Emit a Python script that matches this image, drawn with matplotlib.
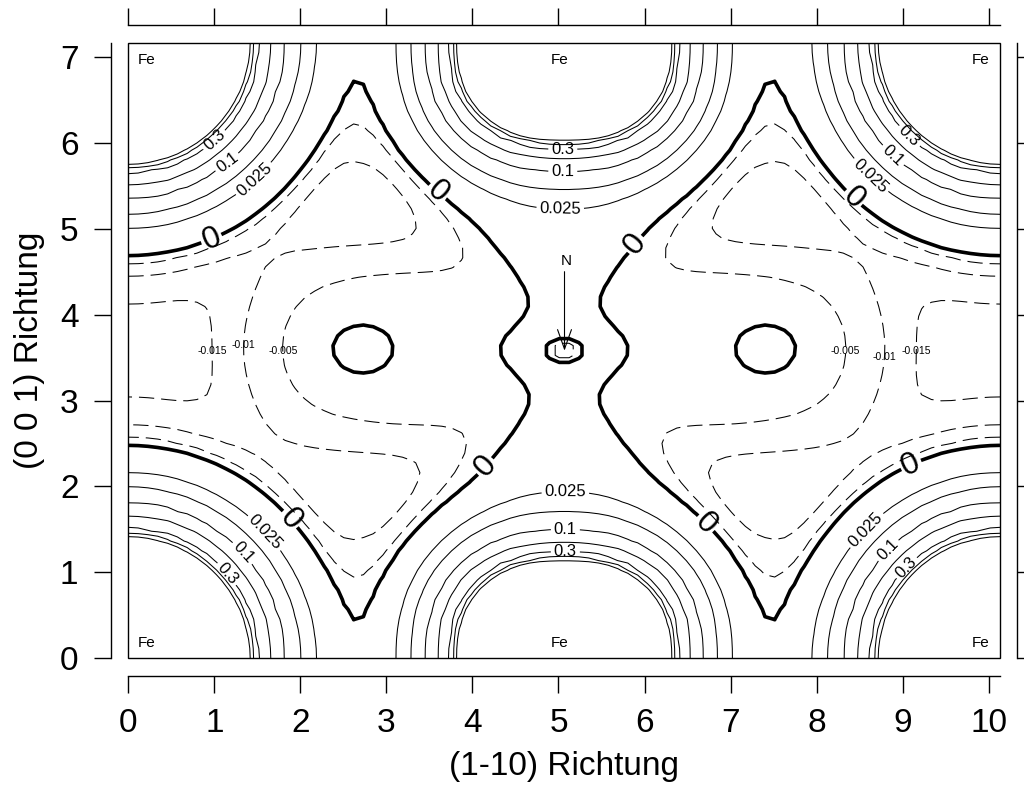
import numpy as np
import matplotlib.pyplot as plt

plt.rcParams['font.family'] = ['Liberation Sans', 'DejaVu Sans']
plt.rcParams['lines.scale_dashes'] = False

# Ebene (1-10) x (001), Laengen in Bohr
GITTER_A = 7.165
BREITE = GITTER_A * np.sqrt(2)

# Atompositionen in der Ebene
FE_ECKE_X = [0.0, BREITE, 0.0, BREITE]
FE_ECKE_Y = [0.0, 0.0, GITTER_A, GITTER_A]
FE_MITTE_X = [BREITE / 2, BREITE / 2]
FE_MITTE_Y = [0.0, GITTER_A]
N_X, N_Y = BREITE / 2, GITTER_A / 2
INSEL_X = [2.70, BREITE - 2.70]
INSEL_Y = [3.60, 3.60]

# radiales Profil der Fe-Dichte (Abstand, Dichte)
FE_RADIUS = [1.30, 1.41, 1.45, 1.50, 1.67, 1.80, 1.99, 2.16, 2.48, 2.58, 2.76, 3.06, 3.60, 4.50, 6.00]
FE_DICHTE = [0.90, 0.52, 0.42, 0.32, 0.22, 0.12, 0.07, 0.045, 0.020, 0.014, 0.0088, 0.0045, 0.001, 0.0001, 0.00001]

# Untergrund, Bruecke Fe-N-Fe, Stickstoff, Inseln
UNTERGRUND = 0.020
BRUECKE = [0.022, 0.90, 0.25, 0.45]      # Hoehe, Breite, Einbruch, Einbruchbreite
N_BEITRAG = [0.008, 0.55, 0.30]          # Hoehe, sx, sy
N_LOCH = [0.013, 0.20, 0.14]             # Tiefe, rx, ry
INSEL_SOCKEL = [0.016, 1.55, 1.30]       # Hoehe, wx, wy
INSEL_KERN = [0.010, 0.22, 0.18]         # Hoehe, sx, sy
FE_MITTE_FORM = [0.88, 0.80, 2.4]        # ax, ay, Exponent

STUFEN_POS = [0.025, 0.05, 0.1, 0.2, 0.3, 0.4, 0.5]
STUFEN_NEG = [-0.015, -0.01, -0.005]

# Positionen der Beschriftungen
LABEL_POS = {0.3: [(0.95, 6.09), (5.05, 5.99), (9.14, 6.14), (1.09, 0.93), (5.08, 1.12), (9.10, 1.00)],
             0.1: [(1.15, 5.77), (5.05, 5.62), (8.92, 5.89), (1.30, 1.20), (5.08, 1.49), (8.87, 1.22)],
             0.025: [(1.44, 5.60), (5.02, 5.12), (8.66, 5.65), (1.55, 1.43), (5.08, 2.00), (8.61, 1.46)]}
LABEL_NULL = [(0.97, 4.87), (3.53, 5.36), (5.90, 4.81), (8.46, 5.39),
              (4.13, 2.25), (1.87, 1.61), (6.77, 1.63), (9.10, 2.25)]
LABEL_NEG = {-0.015: [(0.88, 3.58), (9.25, 3.58)],
             -0.01: [(1.42, 3.64), (8.71, 3.52)],
             -0.005: [(1.87, 3.58), (8.27, 3.58)]}


def profil(r):
    return np.exp(np.interp(r, FE_RADIUS, np.log(FE_DICHTE)))


def dichte(X, Y):
    rho = -UNTERGRUND * np.ones_like(X)
    for fx, fy in zip(FE_ECKE_X, FE_ECKE_Y):
        rho += profil(np.hypot(X - fx, Y - fy))
    ax_, ay_, q = FE_MITTE_FORM
    for fx, fy in zip(FE_MITTE_X, FE_MITTE_Y):
        r = ((np.abs(X - fx) / ax_) ** q + (np.abs(Y - fy) / ay_) ** q) ** (1 / q)
        rho += profil(r)
    dx = X - N_X
    dy = Y - N_Y
    h, w, m, wm = BRUECKE
    rho += h * np.exp(-0.5 * (dx / w) ** 2) * (1 - m * np.exp(-0.5 * (dy / wm) ** 2))
    a, sx, sy = N_BEITRAG
    rho += a * np.exp(-0.5 * (dx / sx) ** 2 - 0.5 * (dy / sy) ** 2)
    t, rx, ry = N_LOCH
    rho -= t * np.exp(-((dx / rx) ** 2 + (dy / ry) ** 2) ** 2)
    for ix, iy in zip(INSEL_X, INSEL_Y):
        ex = X - ix
        ey = Y - iy
        b, wx, wy = INSEL_SOCKEL
        rho += b * np.exp(-((ex / wx) ** 2 + (ey / wy) ** 2) ** 2)
        c, kx, ky = INSEL_KERN
        rho += c * np.exp(-0.5 * (ex / kx) ** 2 - 0.5 * (ey / ky) ** 2)
    return rho


x = np.linspace(0, BREITE, 90)
y = np.linspace(0, GITTER_A, 64)
X, Y = np.meshgrid(x, y)
Z = dichte(X, Y)

fig = plt.figure(figsize=(10.24, 7.94), dpi=100)
ax = fig.add_axes([128.4 / 1024, 135.7 / 794, 871.6 / 1024, 615.6 / 794])
ax.set_xlim(0, BREITE)
ax.set_ylim(0, GITTER_A)

fmt = lambda v: f'{v:g}'

# jede Stufe einzeln, damit clabel mit festen Orten funktioniert
for stufe in STUFEN_POS:
    cs = ax.contour(X, Y, Z, levels=[stufe], colors='k', linewidths=0.75, linestyles='solid')
    if stufe in LABEL_POS:
        ax.clabel(cs, manual=LABEL_POS[stufe], fmt=fmt, fontsize=12, inline_spacing=3)

cs_null = ax.contour(X, Y, Z, levels=[0.0], colors='k', linewidths=2.6, linestyles='solid')
ax.clabel(cs_null, manual=LABEL_NULL, fmt=fmt, fontsize=23, inline_spacing=2)

for stufe in STUFEN_NEG:
    cs = ax.contour(X, Y, Z, levels=[stufe], colors='k', linewidths=0.75,
                    linestyles=[(0, (11, 5))])
    txt = ax.clabel(cs, manual=LABEL_NEG[stufe], fmt=fmt, fontsize=7.5, inline=False)
    for t in txt:
        t.set_rotation(0)

# Atombeschriftungen
for xa, ya, ha in [(0.011, 0.972, 'left'), (0.495, 0.972, 'center'), (0.9885, 0.972, 'right'),
                   (0.011, 0.025, 'left'), (0.495, 0.025, 'center'), (0.9885, 0.025, 'right')]:
    ax.text(xa, ya, 'Fe', transform=ax.transAxes, ha=ha, va='center', fontsize=11)
ax.text(5.09, 4.62, 'N', ha='center', va='center', fontsize=11)
ax.annotate('', xy=(5.07, 3.58), xytext=(5.07, 4.50),
            arrowprops=dict(arrowstyle='->,head_length=0.7,head_width=0.25', lw=0.8,
                            color='k', shrinkA=0, shrinkB=0, mutation_scale=20))

# Rahmen um das Bild, Achsen nach aussen versetzt
ax.add_patch(plt.Rectangle((0, 0), 1, 1, transform=ax.transAxes, fill=False,
                           lw=1.0, ec='k', clip_on=False, zorder=5))
for seite in ['bottom', 'left', 'top', 'right']:
    ax.spines[seite].set_position(('outward', 12.5))
    ax.spines[seite].set_linewidth(1.0)

ax.set_xticks(range(0, 11))
ax.set_yticks(range(0, 8))
ax.tick_params(direction='out', length=12.5, width=1.0, labelsize=24, pad=11,
               top=True, right=True, labeltop=False, labelright=False)

ax.text(0.5, (658.3 - 767) / 615.6, '(1-10) Richtung', transform=ax.transAxes,
        ha='center', va='center', fontsize=24)
ax.text((30 - 128.4) / 871.6, 0.5, '(0 0 1) Richtung', transform=ax.transAxes,
        ha='center', va='center', rotation=90, fontsize=24)

fig.savefig('out.png', dpi=100)
